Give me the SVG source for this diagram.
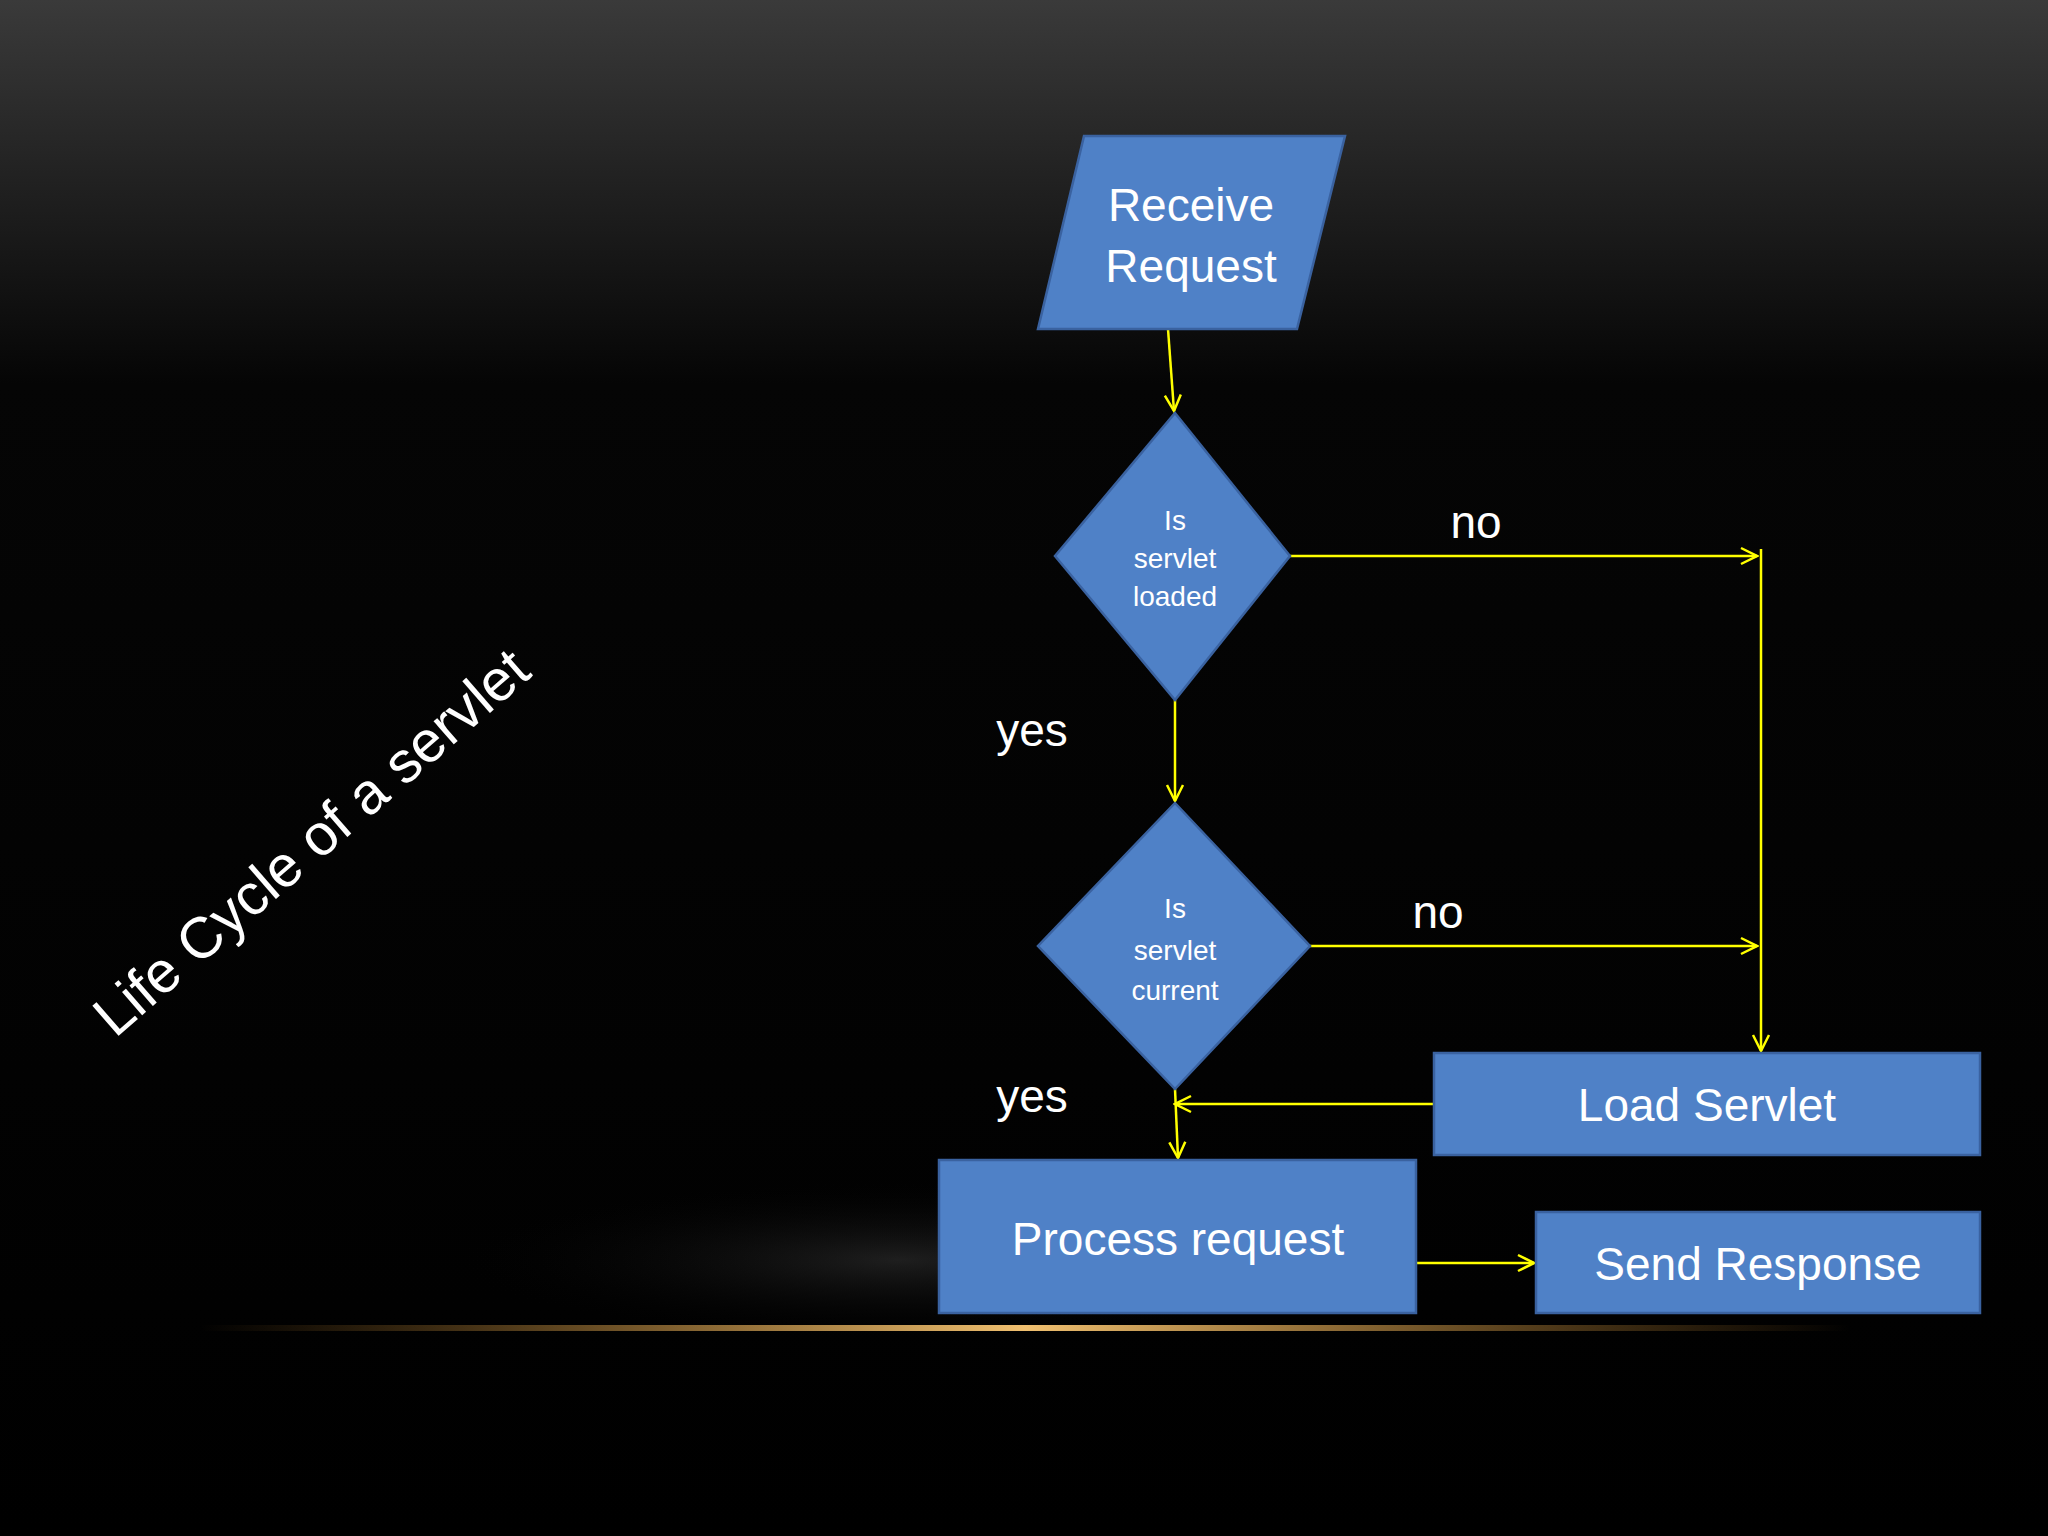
<svg xmlns="http://www.w3.org/2000/svg" width="2048" height="1536" viewBox="0 0 2048 1536">
<defs>
<linearGradient id="bg" x1="0" y1="0" x2="0" y2="1">
<stop offset="0" stop-color="#3a3a3a"/><stop offset="0.25" stop-color="#050505"/><stop offset="1" stop-color="#000"/>
</linearGradient>
<linearGradient id="glow" x1="0" y1="0" x2="1" y2="0">
<stop offset="0" stop-color="#c8862a" stop-opacity="0"/><stop offset="0.5" stop-color="#f0c070"/><stop offset="1" stop-color="#c8862a" stop-opacity="0"/>
</linearGradient>
<radialGradient id="haze" cx="0.5" cy="0.5" r="0.5">
<stop offset="0" stop-color="#555" stop-opacity="0.35"/><stop offset="1" stop-color="#000" stop-opacity="0"/>
</radialGradient>
<marker id="arr" viewBox="0 0 20 20" refX="18" refY="10" markerWidth="20" markerHeight="20" markerUnits="userSpaceOnUse" orient="auto">
<path d="M2,2 L18,10 L2,18" fill="none" stroke="#ffff00" stroke-width="2.5"/>
</marker>
<style>
.n{fill:#4f81c7;stroke:#3a62a0;stroke-width:2.5}
.t{font-family:"Liberation Sans",Arial,sans-serif;fill:#fff;text-anchor:middle}
.c{stroke:#ffff00;stroke-width:2.5;fill:none}
</style>
</defs>
<rect width="2048" height="1536" fill="url(#bg)"/>
<ellipse cx="900" cy="1260" rx="450" ry="80" fill="url(#haze)"/>
<rect x="200" y="1325" width="1650" height="6" fill="url(#glow)"/>
<text class="t" font-size="58" transform="translate(311,842) rotate(-41)" dy="20">Life Cycle of a servlet</text>
<g id="connectors">
<line class="c" x1="1168" y1="329" x2="1174" y2="411" marker-end="url(#arr)"/>
<line class="c" x1="1175" y1="700" x2="1175" y2="801" marker-end="url(#arr)"/>
<line class="c" x1="1290" y1="556" x2="1757" y2="556" marker-end="url(#arr)"/>
<line class="c" x1="1761" y1="549" x2="1761" y2="1051" marker-end="url(#arr)"/>
<line class="c" x1="1310" y1="946" x2="1757" y2="946" marker-end="url(#arr)"/>
<line class="c" x1="1434" y1="1104" x2="1175" y2="1104" marker-end="url(#arr)"/>
<line class="c" x1="1175" y1="1089" x2="1178" y2="1158" marker-end="url(#arr)"/>
<line class="c" x1="1417" y1="1263" x2="1534" y2="1263" marker-end="url(#arr)"/>
</g>
<g id="labels">
<text class="t" font-size="46" x="1476" y="538">no</text>
<text class="t" font-size="46" x="1438" y="928">no</text>
<text class="t" font-size="46" x="1032" y="746">yes</text>
<text class="t" font-size="46" x="1032" y="1112">yes</text>
</g>
<g id="receive">
<polygon class="n" points="1084,136 1345,136 1297,329 1038,329"/>
<text class="t" font-size="46" x="1191" y="221">Receive</text>
<text class="t" font-size="46" x="1191" y="282">Request</text>
</g>
<g id="loaded">
<polygon class="n" points="1175,413 1290,556 1175,700 1055,556"/>
<text class="t" font-size="28" x="1175" y="530">Is</text>
<text class="t" font-size="28" x="1175" y="568">servlet</text>
<text class="t" font-size="28" x="1175" y="606">loaded</text>
</g>
<g id="current">
<polygon class="n" points="1175,803 1310,946 1175,1089 1038,946"/>
<text class="t" font-size="28" x="1175" y="918">Is</text>
<text class="t" font-size="28" x="1175" y="960">servlet</text>
<text class="t" font-size="28" x="1175" y="1000">current</text>
</g>
<g id="load">
<rect class="n" x="1434" y="1053" width="546" height="102"/>
<text class="t" font-size="46" x="1707" y="1121">Load Servlet</text>
</g>
<g id="process">
<rect class="n" x="939" y="1160" width="477" height="153"/>
<text class="t" font-size="46" x="1178" y="1255">Process request</text>
</g>
<g id="send">
<rect class="n" x="1536" y="1212" width="444" height="101"/>
<text class="t" font-size="46" x="1758" y="1280">Send Response</text>
</g>
</svg>
